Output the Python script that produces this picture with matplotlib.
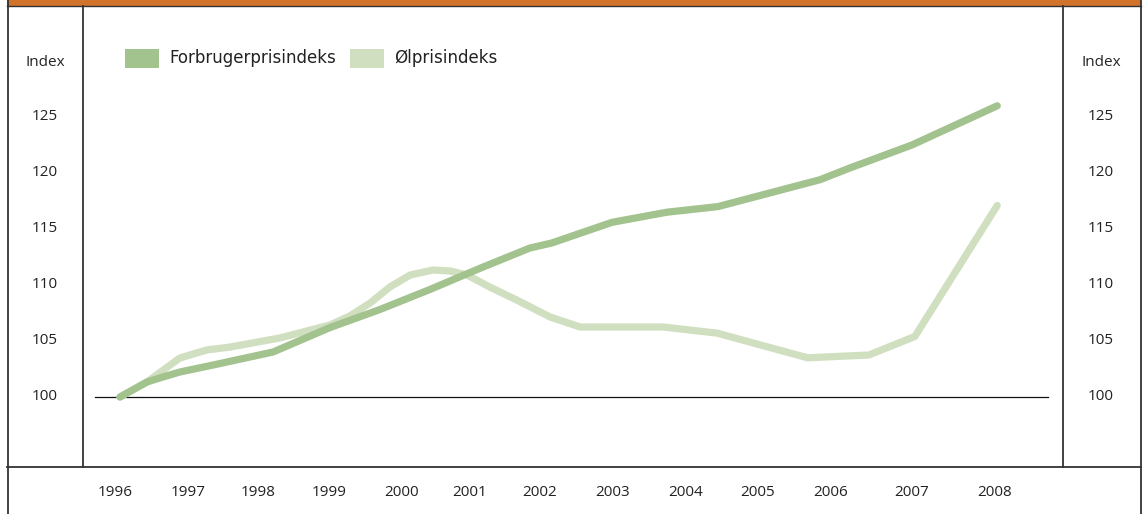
import matplotlib
matplotlib.use("Agg")
import matplotlib.pyplot as plt
from matplotlib.lines import Line2D
from matplotlib.patches import Rectangle

# ---- data ----
years = [1996, 1997, 1998, 1999, 2000, 2001, 2002, 2003, 2004, 2005, 2006, 2007, 2008]
# label positions on the time axis (fractional years, as placed in the original)
year_label_pos = [1995.93, 1996.93, 1997.90, 1998.87, 1999.86, 2000.80, 2001.76,
                  2002.76, 2003.76, 2004.75, 2005.75, 2006.86, 2007.99]

cpi_x = [1996.00, 1996.37, 1996.59, 1996.82, 1997.28, 1998.10, 1998.88, 1999.56,
         2000.25, 2000.94, 2001.62, 2001.92, 2002.75, 2003.50, 2004.20, 2005.60,
         2006.01, 2006.86, 2008.03]
cpi_y = [100.0, 101.34, 101.79, 102.23, 102.86, 104.02, 106.2, 107.8,
         109.6, 111.5, 113.3, 113.75, 115.6, 116.5, 117.0, 119.4,
         120.45, 122.5, 126.0]

beer_x = [1996.00, 1996.37, 1996.82, 1997.19, 1997.51, 1998.19, 1998.88, 1999.15,
          1999.43, 1999.70, 1999.98, 2000.29, 2000.53, 2000.76, 2001.07, 2001.44,
          2001.90, 2002.31, 2003.45, 2004.19, 2005.43, 2006.27, 2006.90, 2008.03]
beer_y = [100.0, 101.34, 103.48, 104.2, 104.46, 105.27, 106.43, 107.23,
          108.39, 109.82, 110.89, 111.34, 111.25, 110.89, 109.82, 108.66,
          107.14, 106.25, 106.25, 105.7, 103.5, 103.75, 105.4, 117.1]

y_ticks = [100, 105, 110, 115, 120, 125]
index_level = 130
series_names = ["Forbrugerprisindeks", "\u00d8lprisindeks"]

# ---- style ----
W, H = 1143, 514
cpi_color = "#A2C28E"
beer_color = "#CFDFBF"
orange = "#D2732B"
frame = "#333333"
txt = "#222222"
tick_font = "Open Sans"
tick_size = 11
legend_font = ["DejaVu Sans"]

fig = plt.figure(figsize=(W / 100, H / 100), dpi=100)

def fx(px):
    return px / W

def fy(py):
    return 1 - py / H

# plot area between inner vertical rules
left_px, right_px, top_px, bot_px = 82, 1062, 6, 466
ax = fig.add_axes([fx(left_px), fy(bot_px), fx(right_px) - fx(left_px), fy(top_px) - fy(bot_px)])
ppy = 72.92  # px per year
ppu = 11.2   # px per index unit
ax.set_xlim(1996 - (120 - left_px) / ppy, 1996 + (right_px - 120) / ppy)
ax.set_ylim(100 - (bot_px - 397) / ppu, 100 + (397 - top_px) / ppu)
ax.axis("off")

# baseline at 100
ax.plot([1996 - 25 / ppy, 1996 + (1048 - 120) / ppy], [100, 100], color="#111111", lw=0.9, zorder=1)

ax.plot(beer_x, beer_y, color=beer_color, lw=5.2, solid_capstyle="round",
        solid_joinstyle="round", zorder=2)
ax.plot(cpi_x, cpi_y, color=cpi_color, lw=5.2, solid_capstyle="round",
        solid_joinstyle="round", zorder=3)

# y labels left and right
ytr = ax.get_yaxis_transform()
for v in y_ticks:
    for xp in (45, 1101):
        ax.text((xp - left_px) / (right_px - left_px), v, str(v), transform=ytr, ha="center",
                va="center", fontsize=tick_size, family=tick_font, color=txt, clip_on=False)
for xp in (45, 1101):
    ax.text((xp - left_px) / (right_px - left_px), index_level - 0.15, "Index", transform=ytr,
            ha="center", va="center", fontsize=tick_size, family=tick_font, color=txt,
            clip_on=False)

# x labels
xtr = ax.get_xaxis_transform()
for pos, yr in zip(year_label_pos, years):
    ax.text(pos, -(493 - bot_px) / (bot_px - top_px), str(yr), transform=xtr, ha="center",
            va="center", fontsize=tick_size, family=tick_font, color=txt, clip_on=False)

# legend
leg_items = [(125, series_names[0], cpi_color), (350, series_names[1], beer_color)]
for px, name, col in leg_items:
    fig.patches.append(Rectangle((fx(px), fy(67.5)), fx(34), (67.5 - 49) / H,
                                 transform=fig.transFigure, color=col, lw=0))
    fig.text(fx(px + 44), fy(58), name, ha="left", va="center", fontsize=13.3,
             family=legend_font, fontstretch="condensed", color=txt)

# frame lines & orange header
fig.patches.append(Rectangle((fx(7), fy(6)), fx(1141) - fx(7), 6 / H,
                             transform=fig.transFigure, color=orange, lw=0))
def hline(py, x0, x1, lw=1.3):
    fig.add_artist(Line2D([fx(x0), fx(x1)], [fy(py), fy(py)], color=frame, lw=lw))
def vline(px, y0, y1, lw=1.3):
    fig.add_artist(Line2D([fx(px), fx(px)], [fy(y0), fy(y1)], color=frame, lw=lw))

hline(6.3, 7, 1141, lw=1.0)
hline(466.5, 7, 1141)
vline(7.5, 0, 514)
vline(1140.7, 0, 514)
vline(82.7, 6, 466.5)
vline(1062.7, 6, 466.5)

fig.savefig("out.png", dpi=100)
